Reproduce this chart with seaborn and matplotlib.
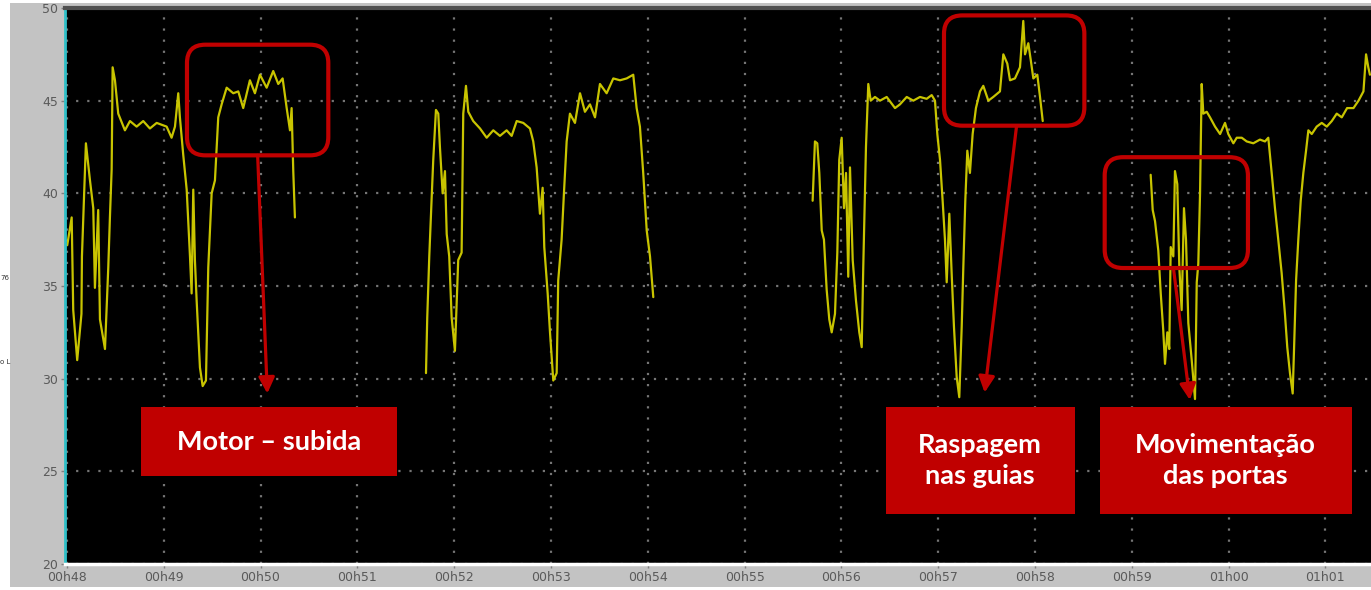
import numpy as np
import pandas as pd
import matplotlib
matplotlib.use("Agg")
import matplotlib.pyplot as plt
from matplotlib.patches import FancyBboxPatch, Rectangle
import seaborn as sns

# Tempo em minutos (48 = 00h48) e valor medido, por trecho de registo
seg1_t = [48.003, 48.049, 48.065, 48.106, 48.150, 48.155, 48.196, 48.238, 48.272, 48.289,
          48.323, 48.341, 48.393, 48.427, 48.444, 48.462, 48.472, 48.496, 48.530, 48.599,
          48.651, 48.720, 48.788, 48.857, 48.927, 49.030, 49.081, 49.116, 49.150, 49.167,
          49.201, 49.237, 49.271, 49.288, 49.305, 49.322, 49.340, 49.374, 49.402, 49.436,
          49.460, 49.495, 49.529, 49.563, 49.598, 49.650, 49.718, 49.770, 49.821, 49.890,
          49.942, 49.994, 50.063, 50.131, 50.183, 50.228, 50.270, 50.304, 50.321, 50.338,
          50.355]
seg1_v = [37.2, 38.7, 33.7, 31.0, 33.5, 36.6, 42.7, 40.7, 39.2, 34.9,
          39.1, 33.2, 31.6, 36.0, 38.7, 41.3, 46.8, 46.1, 44.3, 43.4,
          43.9, 43.6, 43.9, 43.5, 43.8, 43.6, 43.0, 43.6, 45.4, 44.1,
          42.1, 40.2, 36.6, 34.6, 40.2, 36.4, 34.2, 30.6, 29.6, 29.9,
          36.0, 40.0, 40.7, 44.1, 44.8, 45.7, 45.4, 45.5, 44.6, 46.1,
          45.4, 46.4, 45.7, 46.6, 45.9, 46.2, 44.6, 43.4, 44.6, 41.2,
          38.7]

seg2_t = [51.709, 51.722, 51.743, 51.768, 51.784, 51.812, 51.836, 51.853, 51.881, 51.905,
          51.923, 51.949, 51.974, 52.008, 52.042, 52.077, 52.094, 52.122, 52.146, 52.197,
          52.267, 52.336, 52.404, 52.473, 52.542, 52.594, 52.646, 52.714, 52.783, 52.817,
          52.852, 52.886, 52.914, 52.931, 52.966, 52.990, 53.024, 53.059, 53.075, 53.110,
          53.134, 53.162, 53.196, 53.248, 53.300, 53.351, 53.403, 53.455, 53.506, 53.575,
          53.644, 53.713, 53.782, 53.850, 53.885, 53.919, 53.953, 53.989, 54.023, 54.057]
seg2_v = [30.3, 33.3, 36.6, 39.8, 41.8, 44.5, 44.3, 42.5, 40.0, 41.2,
          37.8, 36.6, 33.3, 31.5, 36.4, 36.8, 44.3, 45.8, 44.4, 43.9,
          43.5, 43.0, 43.4, 43.1, 43.4, 43.1, 43.9, 43.8, 43.5, 42.8,
          41.4, 38.9, 40.3, 37.1, 34.6, 32.5, 29.9, 30.3, 35.3, 37.5,
          40.0, 42.8, 44.3, 43.8, 45.4, 44.4, 44.8, 44.1, 45.9, 45.4,
          46.2, 46.1, 46.2, 46.4, 44.6, 43.6, 41.1, 38.0, 36.6, 34.4]

seg3_t = [55.703, 55.727, 55.751, 55.772, 55.797, 55.820, 55.848, 55.875, 55.900, 55.934,
          55.958, 55.978, 56.003, 56.027, 56.048, 56.071, 56.089, 56.117, 56.151, 56.185,
          56.210, 56.226, 56.254, 56.278, 56.303, 56.347, 56.399, 56.468, 56.554, 56.605,
          56.675, 56.743, 56.812, 56.881, 56.933, 56.967, 56.991, 57.019, 57.046, 57.070,
          57.088, 57.115, 57.139, 57.163, 57.191, 57.218, 57.243, 57.259, 57.280, 57.301,
          57.328, 57.356, 57.390, 57.432, 57.466, 57.518, 57.569, 57.638, 57.673, 57.714,
          57.742, 57.793, 57.845, 57.879, 57.897, 57.931, 57.956, 57.983, 58.024, 58.052,
          58.080]
seg3_v = [39.6, 42.8, 42.7, 41.1, 38.0, 37.5, 34.8, 33.2, 32.5, 33.5,
          36.8, 41.8, 43.0, 39.2, 41.1, 35.5, 41.4, 36.4, 34.2, 32.5,
          31.7, 36.0, 42.5, 45.9, 45.0, 45.2, 45.0, 45.2, 44.6, 44.8,
          45.2, 45.0, 45.2, 45.1, 45.3, 45.0, 43.2, 41.8, 39.6, 37.5,
          35.2, 38.9, 35.7, 32.8, 30.1, 29.0, 32.8, 35.9, 39.6, 42.3,
          41.1, 43.2, 44.6, 45.5, 45.8, 45.0, 45.2, 45.5, 47.5, 47.0,
          46.1, 46.2, 46.8, 49.3, 47.5, 48.1, 47.2, 46.2, 46.4, 45.2,
          43.9]

seg4_t = [59.195, 59.216, 59.240, 59.274, 59.299, 59.325, 59.343, 59.367, 59.387, 59.402,
          59.429, 59.446, 59.470, 59.491, 59.515, 59.539, 59.560, 59.584, 59.619, 59.653,
          59.671, 59.687, 59.705, 59.722, 59.739, 59.774, 59.808, 59.860, 59.912, 59.963,
          59.997, 60.049, 60.084, 60.136, 60.187, 60.255, 60.324, 60.376, 60.410, 60.445,
          60.479, 60.513, 60.548, 60.565, 60.582, 60.606, 60.634, 60.662, 60.676, 60.697,
          60.720, 60.745, 60.772, 60.800, 60.824, 60.859, 60.910, 60.962, 61.014, 61.066,
          61.117, 61.169, 61.224, 61.290, 61.342, 61.393, 61.420, 61.443, 61.460]
seg4_v = [41.0, 39.1, 38.5, 36.9, 34.6, 32.6, 30.8, 32.5, 31.6, 37.1,
          36.6, 41.2, 40.5, 36.0, 33.7, 39.2, 37.5, 33.0, 31.0, 28.9,
          35.2, 36.2, 40.0, 45.9, 44.3, 44.4, 44.1, 43.6, 43.2, 43.8,
          43.2, 42.7, 43.0, 43.0, 42.8, 42.7, 42.9, 42.8, 43.0, 41.1,
          39.2, 37.5, 35.7, 34.6, 33.5, 31.7, 30.3, 29.2, 31.6, 35.3,
          37.5, 39.6, 41.1, 42.3, 43.4, 43.2, 43.6, 43.8, 43.6, 43.9,
          44.3, 44.1, 44.6, 44.6, 45.0, 45.5, 47.5, 46.8, 46.4]

x_ticks = list(range(48, 62))
x_labels = ["00h48", "00h49", "00h50", "00h51", "00h52", "00h53", "00h54",
            "00h55", "00h56", "00h57", "00h58", "00h59", "01h00", "01h01"]
y_ticks = [20, 25, 30, 35, 40, 45, 50]

# anotacoes (caixas de destaque, setas e etiquetas)
box_x0 = [49.24, 57.06, 58.72]
box_x1 = [50.70, 58.51, 60.20]
box_y0 = [42.05, 43.65, 35.97]
box_y1 = [48.02, 49.60, 41.95]
arrow_from = [(49.97, 42.05), (57.81, 43.65), (59.43, 35.97)]
arrow_to = [(50.07, 29.20), (57.48, 29.25), (59.60, 28.85)]
lab_text = ["Motor \u2013 subida", "Raspagem\nnas guias", "Movimenta\u00e7\u00e3o\ndas portas"]
lab_x0 = [48.77, 56.46, 58.67]
lab_x1 = [51.41, 58.41, 61.27]
lab_y0 = [24.73, 22.68, 22.68]
lab_y1 = [28.45, 28.45, 28.45]

frames = []
for i, (t, v) in enumerate([(seg1_t, seg1_v), (seg2_t, seg2_v), (seg3_t, seg3_v), (seg4_t, seg4_v)]):
    frames.append(pd.DataFrame({"t": t, "v": v, "seg": i}))
df = pd.concat(frames, ignore_index=True)

sns.set_style("dark")

W, H = 1371, 590
fig = plt.figure(figsize=(W / 100, H / 100), dpi=100, facecolor="#c3c3c3")
# margens brancas da captura
fig.patches.append(Rectangle((0, 0), 10 / W, 1, transform=fig.transFigure,
                             facecolor="white", edgecolor="none", zorder=-1))
fig.patches.append(Rectangle((0, 1 - 3 / H), 1, 3 / H, transform=fig.transFigure,
                             facecolor="white", edgecolor="none", zorder=-1))
fig.patches.append(Rectangle((0, 0), 1, 3 / H, transform=fig.transFigure,
                             facecolor="white", edgecolor="none", zorder=-1))
ax = fig.add_axes([65 / W, 26 / H, 1306 / W, 556 / H])
ax.set_zorder(2)
ax.set_facecolor("black")

sns.lineplot(data=df, x="t", y="v", units="seg", estimator=None, sort=False,
             color="#c8c400", lw=1.6, ax=ax, legend=False)

ax.set_xlim(47.98, 61.471)
ax.set_ylim(20, 50)
ax.set_xticks(x_ticks)
ax.set_xticklabels(x_labels)
ax.set_yticks(y_ticks)
ax.set_xlabel("")
ax.set_ylabel("")
ax.grid(True, color="#757575", linestyle=(0, (1, 4)), linewidth=1.6)
ax.set_axisbelow(True)
ax.tick_params(axis="both", which="both", length=3, width=1, color="#808080",
               labelcolor="#5a5a5a", labelsize=9, pad=2, bottom=True, left=True)

ax.spines["left"].set_color("#30c0c8")
ax.spines["left"].set_linewidth(2)
ax.spines["bottom"].set_color("white")
ax.spines["bottom"].set_linewidth(2.5)
ax.spines["top"].set_color("#505050")
ax.spines["top"].set_linewidth(3)
ax.spines["right"].set_visible(False)

red = "#c00000"
for i in range(3):
    box = FancyBboxPatch((box_x0[i], box_y0[i]), box_x1[i] - box_x0[i], box_y1[i] - box_y0[i],
                         boxstyle="round,pad=0,rounding_size=0.19", mutation_aspect=5.2,
                         facecolor="none", edgecolor=red, lw=3, zorder=5)
    ax.add_patch(box)
    ax.annotate("", xy=arrow_to[i], xytext=arrow_from[i],
                arrowprops=dict(arrowstyle="-|>", color=red, lw=2.3, mutation_scale=24,
                                shrinkA=0, shrinkB=0), zorder=6)
    ax.add_patch(Rectangle((lab_x0[i], lab_y0[i]), lab_x1[i] - lab_x0[i], lab_y1[i] - lab_y0[i],
                           facecolor=red, edgecolor="none", zorder=6))
    ax.text((lab_x0[i] + lab_x1[i]) / 2, (lab_y0[i] + lab_y1[i]) / 2, lab_text[i],
            ha="center", va="center", color="white", fontsize=19.5, fontweight="bold",
            family="Lato", linespacing=1.35, zorder=7)

# restos de texto na margem esquerda
fig.text(0 / W, 1 - 278 / H, "76", fontsize=5, color="#333333", va="center")
fig.text(0 / W, 1 - 362 / H, "o L", fontsize=5, color="#333333", va="center")

fig.savefig("out.png", dpi=100, facecolor=fig.get_facecolor())
